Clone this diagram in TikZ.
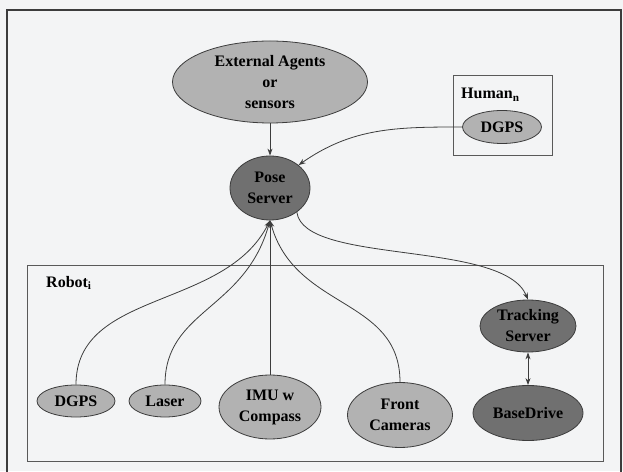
\documentclass[tikz,border=0pt]{standalone}
\usepackage{fontspec}
\setmainfont{Liberation Serif}
\newfontfamily\diagramfont{Liberation Serif}[BoldFont={Liberation Serif Bold}]
\usepackage{xcolor}
\usepackage{tikz}
\usetikzlibrary{shapes.geometric, arrows.meta}

\definecolor{paper}{RGB}{243,244,245}
\definecolor{lightnode}{RGB}{178,178,178}
\definecolor{darknode}{RGB}{112,112,112}
\definecolor{edgeline}{RGB}{60,60,60}

\begin{document}
\begin{tikzpicture}[x=1pt, y=1pt]
		% Define styles with simple colors
		\tikzstyle{sensor} = [ellipse, inner sep=0pt, align=center, draw=edgeline, line width=0.8pt, fill=lightnode, text=black, font=\diagramfont\bfseries\fontsize{16}{21}\selectfont]
		\tikzstyle{server} = [sensor, fill=darknode, text=black]
		\tikzstyle{group} = [rectangle, draw=edgeline!85, line width=0.9pt, inner sep=0pt]
		\tikzstyle{tag} = [anchor=west, inner sep=0pt, text=black, font=\diagramfont\bfseries\fontsize{16}{21}\selectfont]
		\tikzstyle{arrow} = [line width=0.8pt, ->, >={Stealth[length=7pt, width=5pt]}, draw=edgeline]

		% Canvas and outer frame
		\useasboundingbox[fill=paper] (0,0) rectangle (623,471);
		\draw[line width=1.8pt, draw=edgeline] (7,-5) -- (7,461) -- (621,461) -- (621,-5);

		% Groups
		\node[group, minimum width=99, minimum height=80] (humanbox) at (502.5,356) {};
		\node[tag] (humanlabel) at (461,376) {Human\textsubscript{n}};
		\node[group, minimum width=576, minimum height=196] (robotbox) at (315,108) {};
		\node[tag] (robotlabel) at (46,188) {Robot\textsubscript{i}};

		% Nodes
		\node[sensor, minimum width=195, minimum height=82] (agents) at (270,389) {External Agents\\or\\sensors};
		\node[server, minimum width=80, minimum height=64] (pose) at (270,283) {Pose\\Server};
		\node[sensor, minimum width=79, minimum height=33] (humangps) at (502,344) {DGPS};
		\node[sensor, minimum width=78, minimum height=32] (robotgps) at (76,70) {DGPS};
		\node[sensor, minimum width=72, minimum height=32] (laser) at (165,70) {Laser};
		\node[sensor, minimum width=102, minimum height=64] (imu) at (270,64) {IMU w\\Compass};
		\node[sensor, minimum width=105, minimum height=65] (cameras) at (400,56) {Front\\Cameras};
		\node[server, minimum width=96, minimum height=52] (tracking) at (528,145) {Tracking\\Server};
		\node[server, minimum width=110, minimum height=55] (basedrive) at (528,58) {BaseDrive};

		% Arrows
		\draw[arrow] (agents) -- (pose);
		\draw[arrow] (humangps.west) to[out=180, in=35] (pose.north east);
		\draw[arrow] (pose.-42) .. controls +(7,-53) and +(-25,60) .. (tracking.north);
		\draw[arrow] (robotgps.north) .. controls +(0,95) and +(-45,-90) .. (pose.south);
		\draw[arrow] (laser.north) .. controls +(0,75) and +(-25,-90) .. (pose.south);
		\draw[arrow] (imu) -- (pose);
		\draw[arrow] (cameras.north) .. controls +(0,85) and +(25,-90) .. (pose.south);
		\draw[arrow, <->] (tracking) -- (basedrive);
\end{tikzpicture}
\end{document}
